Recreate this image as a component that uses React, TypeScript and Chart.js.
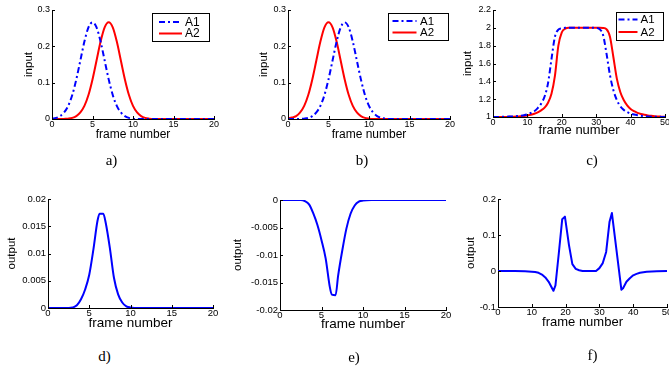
import React, { useEffect, useRef } from "react";
import { Chart, registerables } from "chart.js";

Chart.register(...registerables);

// ---------------- data ----------------
const FRAMES_AB = [0, 0.5, 1, 1.5, 2, 2.5, 3, 3.5, 4, 4.5, 5, 5.5, 6, 6.5, 7, 7.5, 8, 8.5, 9, 9.5, 10, 10.5, 11, 11.5, 12, 12.5, 13, 13.5, 14, 14.5, 15, 15.5, 16, 16.5, 17, 17.5, 18, 18.5, 19, 19.5, 20];

const INPUT_A_A1 = [0.001, 0.003, 0.008, 0.018, 0.036, 0.066, 0.109, 0.161, 0.213, 0.252, 0.266, 0.252, 0.213, 0.161, 0.109, 0.066, 0.036, 0.018, 0.008, 0.003, 0.001, 0, 0, 0, 0, 0, 0, 0, 0, 0, 0, 0, 0, 0, 0, 0, 0, 0, 0, 0, 0];
const INPUT_A_A2 = [0, 0, 0, 0.0003, 0.001, 0.003, 0.008, 0.018, 0.036, 0.066, 0.109, 0.161, 0.213, 0.252, 0.266, 0.252, 0.213, 0.161, 0.109, 0.066, 0.036, 0.018, 0.008, 0.003, 0.001, 0, 0, 0, 0, 0, 0, 0, 0, 0, 0, 0, 0, 0, 0, 0, 0];

const INPUT_B_A1 = [0, 0, 0, 0.0003, 0.001, 0.003, 0.008, 0.018, 0.036, 0.066, 0.109, 0.161, 0.213, 0.252, 0.266, 0.252, 0.213, 0.161, 0.109, 0.066, 0.036, 0.018, 0.008, 0.003, 0.001, 0, 0, 0, 0, 0, 0, 0, 0, 0, 0, 0, 0, 0, 0, 0, 0];
const INPUT_B_A2 = [0.002, 0.004, 0.008, 0.018, 0.036, 0.066, 0.109, 0.161, 0.213, 0.252, 0.266, 0.252, 0.213, 0.161, 0.109, 0.066, 0.036, 0.018, 0.008, 0.003, 0.001, 0, 0, 0, 0, 0, 0, 0, 0, 0, 0, 0, 0, 0, 0, 0, 0, 0, 0, 0, 0];

const FRAMES_C = [0, 1, 2, 3, 4, 5, 6, 7, 8, 9, 10, 11, 12, 13, 14, 15, 16, 17, 18, 19, 20, 21, 22, 23, 24, 25, 26, 27, 28, 29, 30, 31, 32, 33, 34, 35, 36, 37, 38, 39, 40, 41, 42, 43, 44, 45, 46, 47, 48, 49, 50];
const INPUT_C_A1 = [
  1.0, 1.0, 1.001, 1.002, 1.003, 1.005, 1.007, 1.01, 1.014, 1.02,
  1.03, 1.045, 1.065, 1.1, 1.15, 1.23, 1.38, 1.65, 1.9, 1.98,
  1.995, 2.0, 2.0, 2.0, 2.0, 2.0, 2.0, 2.0, 2.0, 2.0,
  1.998, 1.985, 1.92, 1.71, 1.47, 1.3, 1.19, 1.12, 1.08, 1.055,
  1.038, 1.027, 1.019, 1.013, 1.009, 1.006, 1.004, 1.003, 1.002, 1.001, 1.0,
];
const INPUT_C_A2 = [
  1.0, 1.0, 1.0, 1.001, 1.001, 1.002, 1.003, 1.005, 1.008, 1.012,
  1.018, 1.026, 1.037, 1.053, 1.075, 1.105, 1.16, 1.26, 1.46, 1.8,
  1.95, 1.99, 2.0, 2.0, 2.0, 2.0, 2.0, 2.0, 2.0, 2.0,
  2.0, 2.0, 1.998, 1.985, 1.9, 1.67, 1.43, 1.28, 1.19, 1.13,
  1.09, 1.065, 1.047, 1.034, 1.025, 1.018, 1.013, 1.009, 1.006, 1.004, 1.002,
];

const FRAMES_DE = [0, 1, 2, 2.5, 3, 3.5, 4, 4.5, 5, 5.5, 6, 6.25, 6.7, 7, 7.5, 8, 8.5, 9, 9.5, 10, 11, 12, 14, 16, 18, 20];
const OUTPUT_D = [0, 0, 0, 0, 0.0001, 0.0005, 0.0016, 0.0034, 0.0061, 0.0107, 0.016, 0.0173, 0.0173, 0.0156, 0.011, 0.0055, 0.0025, 0.001, 0.0003, 0.0001, 0, 0, 0, 0, 0, 0];
const OUTPUT_E = [0, 0, 0, 0, -0.0002, -0.0008, -0.0024, -0.0045, -0.0073, -0.0106, -0.0158, -0.0172, -0.0173, -0.0138, -0.0092, -0.0052, -0.0025, -0.001, -0.0003, -0.0001, 0, 0, 0, 0, 0, 0];

const FRAMES_F = [0, 5, 8, 10, 11, 12, 13, 14, 15, 16, 16.4, 17, 18, 19, 19.8, 21, 22, 23, 24, 25, 27, 29, 30, 31, 32, 33, 33.7, 35, 36.5, 37, 38, 39, 40, 41, 42, 44, 47, 50];
const OUTPUT_F = [0, 0, -0.001, -0.002, -0.003, -0.005, -0.01, -0.018, -0.03, -0.048, -0.055, -0.04, 0.05, 0.144, 0.151, 0.072, 0.019, 0.006, 0.002, 0, 0, 0, 0.008, 0.022, 0.053, 0.137, 0.161, 0.062, -0.052, -0.048, -0.03, -0.02, -0.012, -0.008, -0.005, -0.002, -0.001, 0];

const SERIES_NAMES = ["A1", "A2"];
const X_TITLE = "frame number";
const PANEL_LABELS = ["a)", "b)", "c)", "d)", "e)", "f)"];

// ---------------- styles ----------------
const SANS = "'Liberation Sans', Arial, Helvetica, sans-serif";
const BLUE = "#0000ff";
const RED = "#ff0000";
const DASHDOT = [6, 3, 2, 3];

const W = 56; // y-axis box width
const T = 8; // top padding
const R = 14; // right padding
const H = 34; // x-axis box height

const fmt = (v: number) => String(parseFloat(Number(v).toFixed(6)));

const inwardTicks = {
  id: "inwardTicks",
  afterDatasetsDraw(chart: any) {
    const { ctx, chartArea, scales } = chart;
    const xs = scales.x;
    const ys = scales.y;
    ctx.save();
    ctx.strokeStyle = "#000";
    ctx.lineWidth = 1;
    xs.ticks.forEach((t: any) => {
      const px = Math.round(xs.getPixelForValue(t.value)) + 0.5;
      ctx.beginPath();
      ctx.moveTo(px, chartArea.bottom);
      ctx.lineTo(px, chartArea.bottom - 3);
      ctx.stroke();
    });
    ys.ticks.forEach((t: any) => {
      const py = Math.round(ys.getPixelForValue(t.value)) + 0.5;
      ctx.beginPath();
      ctx.moveTo(chartArea.left, py);
      ctx.lineTo(chartArea.left + 3, py);
      ctx.stroke();
    });
    ctx.restore();
  },
};

const boxLegend = {
  id: "boxLegend",
  afterDatasetsDraw(chart: any, _args: any, opts: any) {
    if (!opts || !opts.show) return;
    const { ctx, chartArea } = chart;
    const bx = Math.round(chartArea.right - opts.right - opts.width);
    const by = Math.round(chartArea.top + opts.top);
    ctx.save();
    ctx.fillStyle = "#fff";
    ctx.fillRect(bx, by, opts.width, opts.height);
    ctx.strokeStyle = "#000";
    ctx.lineWidth = 1;
    ctx.strokeRect(bx + 0.5, by + 0.5, opts.width, opts.height);
    const rows = [opts.row1, opts.row2];
    chart.data.datasets.forEach((ds: any, i: number) => {
      const ly = by + rows[i];
      ctx.strokeStyle = ds.borderColor;
      ctx.lineWidth = ds.borderWidth;
      ctx.setLineDash(ds.borderDash || []);
      ctx.beginPath();
      ctx.moveTo(bx + opts.lineStart, ly);
      ctx.lineTo(bx + opts.lineEnd, ly);
      ctx.stroke();
      ctx.setLineDash([]);
      ctx.fillStyle = "#000";
      ctx.font = `${opts.fontSize}px ${SANS}`;
      ctx.textBaseline = "middle";
      ctx.textAlign = "left";
      ctx.fillText(ds.label, bx + opts.textX, ly + 0.5);
    });
    ctx.restore();
  },
};

type Series = { label: string; x: number[]; y: number[]; color: string; dash?: number[]; smooth: boolean };
type Spec = {
  left: number; right: number; top: number; bottom: number;
  xMin: number; xMax: number; xStep: number;
  yMin: number; yMax: number; yStep: number;
  yTitle: string; tickSize: number; xTitleSize: number; xTitleBelow: number;
  yTitleSize: number; yTitleLeft: number;
  legend?: any;
  series: Series[];
};

function buildConfig(s: Spec): any {
  const xlh = s.xTitleSize * 1.2;
  const ylh = s.yTitleSize * 1.2;
  return {
    type: "line",
    data: {
      datasets: s.series.map((sr) => ({
        label: sr.label,
        data: sr.x.map((x, i) => ({ x, y: sr.y[i] })),
        borderColor: sr.color,
        backgroundColor: sr.color,
        borderWidth: 2,
        borderDash: sr.dash || [],
        borderJoinStyle: "round",
        pointRadius: 0,
        fill: false,
        tension: 0,
        cubicInterpolationMode: sr.smooth ? "monotone" : "default",
      })),
    },
    options: {
      animation: false,
      responsive: false,
      events: [],
      layout: { padding: { top: T, right: R, left: 0, bottom: 0 } },
      scales: {
        x: {
          type: "linear",
          min: s.xMin,
          max: s.xMax,
          ticks: { stepSize: s.xStep, color: "#000", padding: 0, maxRotation: 0, autoSkip: false, font: { family: SANS, size: s.tickSize }, callback: (v: number) => fmt(v) },
          grid: { display: false, drawTicks: false },
          border: { display: true, color: "#000", width: 1 },
          title: { display: true, text: X_TITLE, color: "#000", font: { family: SANS, size: s.xTitleSize }, padding: { top: 0, bottom: H - xlh / 2 - s.xTitleBelow } },
          afterFit: (sc: any) => { sc.height = H; },
        },
        y: {
          type: "linear",
          min: s.yMin,
          max: s.yMax,
          ticks: { stepSize: s.yStep, color: "#000", padding: 2, autoSkip: false, font: { family: SANS, size: s.tickSize }, callback: (v: number) => fmt(v) },
          grid: { display: false, drawTicks: false },
          border: { display: true, color: "#000", width: 1 },
          title: { display: true, text: s.yTitle, color: "#000", font: { family: SANS, size: s.yTitleSize }, padding: { top: W - s.yTitleLeft - ylh / 2, bottom: 0 } },
          afterFit: (sc: any) => { sc.width = W; },
        },
      },
      plugins: {
        legend: { display: false },
        tooltip: { enabled: false },
        boxLegend: s.legend ? { show: true, ...s.legend } : { show: false },
      },
    },
    plugins: [inwardTicks, boxLegend],
  };
}

function Panel({ spec }: { spec: Spec }) {
  const ref = useRef<HTMLCanvasElement>(null);
  const width = spec.right - spec.left + W + R;
  const height = spec.bottom - spec.top + T + H;
  useEffect(() => {
    const chart = new Chart(ref.current as HTMLCanvasElement, buildConfig(spec));
    return () => chart.destroy();
  }, []);
  return (
    <canvas
      ref={ref}
      width={width}
      height={height}
      style={{ position: "absolute", left: spec.left - W, top: spec.top - T, width, height }}
    />
  );
}

const PANELS: Spec[] = [
  {
    left: 52, right: 214, top: 10, bottom: 119,
    xMin: 0, xMax: 20, xStep: 5, yMin: 0, yMax: 0.3, yStep: 0.1,
    yTitle: "input", tickSize: 9, xTitleSize: 12, xTitleBelow: 16, yTitleSize: 11.5, yTitleLeft: 23,
    legend: { right: 5, top: 3, width: 57, height: 28, lineStart: 7, lineEnd: 30, textX: 33, row1: 9, row2: 20.5, fontSize: 12 },
    series: [
      { label: SERIES_NAMES[0], x: FRAMES_AB, y: INPUT_A_A1, color: BLUE, dash: DASHDOT, smooth: true },
      { label: SERIES_NAMES[1], x: FRAMES_AB, y: INPUT_A_A2, color: RED, smooth: true },
    ],
  },
  {
    left: 288, right: 450, top: 10, bottom: 119,
    xMin: 0, xMax: 20, xStep: 5, yMin: 0, yMax: 0.3, yStep: 0.1,
    yTitle: "input", tickSize: 9, xTitleSize: 12, xTitleBelow: 16, yTitleSize: 11.5, yTitleLeft: 24.2,
    legend: { right: 2, top: 3, width: 60, height: 27, lineStart: 4.5, lineEnd: 28.5, textX: 32, row1: 8, row2: 19.5, fontSize: 11.5 },
    series: [
      { label: SERIES_NAMES[0], x: FRAMES_AB, y: INPUT_B_A1, color: BLUE, dash: DASHDOT, smooth: true },
      { label: SERIES_NAMES[1], x: FRAMES_AB, y: INPUT_B_A2, color: RED, smooth: true },
    ],
  },
  {
    left: 493, right: 665, top: 10, bottom: 117,
    xMin: 0, xMax: 50, xStep: 10, yMin: 1, yMax: 2.2, yStep: 0.2,
    yTitle: "input", tickSize: 9, xTitleSize: 13, xTitleBelow: 13.5, yTitleSize: 11.5, yTitleLeft: 25.2,
    legend: { right: 2, top: 2, width: 47, height: 28, lineStart: 2.5, lineEnd: 21.5, textX: 24.5, row1: 7.5, row2: 20, fontSize: 11.5 },
    series: [
      { label: SERIES_NAMES[0], x: FRAMES_C, y: INPUT_C_A1, color: BLUE, dash: DASHDOT, smooth: true },
      { label: SERIES_NAMES[1], x: FRAMES_C, y: INPUT_C_A2, color: RED, smooth: true },
    ],
  },
  {
    left: 48, right: 213, top: 199, bottom: 308,
    xMin: 0, xMax: 20, xStep: 5, yMin: 0, yMax: 0.02, yStep: 0.005,
    yTitle: "output", tickSize: 9.5, xTitleSize: 13.5, xTitleBelow: 15, yTitleSize: 11.5, yTitleLeft: 36.3,
    series: [{ label: "output", x: FRAMES_DE, y: OUTPUT_D, color: BLUE, smooth: true }],
  },
  {
    left: 280, right: 446, top: 200, bottom: 310,
    xMin: 0, xMax: 20, xStep: 5, yMin: -0.02, yMax: 0, yStep: 0.005,
    yTitle: "output", tickSize: 9.5, xTitleSize: 13.5, xTitleBelow: 14.3, yTitleSize: 11.5, yTitleLeft: 41.7,
    series: [{ label: "output", x: FRAMES_DE, y: OUTPUT_E, color: BLUE, smooth: true }],
  },
  {
    left: 498, right: 667, top: 199, bottom: 307,
    xMin: 0, xMax: 50, xStep: 10, yMin: -0.1, yMax: 0.2, yStep: 0.1,
    yTitle: "output", tickSize: 9.5, xTitleSize: 13, xTitleBelow: 15, yTitleSize: 11.5, yTitleLeft: 27.2,
    series: [{ label: "output", x: FRAMES_F, y: OUTPUT_F, color: BLUE, smooth: false }],
  },
];

const LABEL_POS = [
  [111.5, 159.5],
  [362, 159.5],
  [592, 159.5],
  [104.5, 356],
  [354, 356.5],
  [592.5, 355],
];

export default function App() {
  return (
    <div style={{ position: "fixed", left: 0, top: 0, width: 669, height: 367, overflow: "hidden", background: "#fff" }}>
      {PANELS.map((p, i) => (
        <Panel key={i} spec={p} />
      ))}
      {PANEL_LABELS.map((t, i) => (
        <div
          key={"l" + i}
          style={{
            position: "absolute",
            left: LABEL_POS[i][0],
            top: LABEL_POS[i][1],
            transform: "translate(-50%, -50%)",
            fontFamily: "'Liberation Serif', 'Times New Roman', serif",
            fontSize: 15,
            lineHeight: 1,
            color: "#000",
            whiteSpace: "nowrap",
          }}
        >
          {t}
        </div>
      ))}
    </div>
  );
}
